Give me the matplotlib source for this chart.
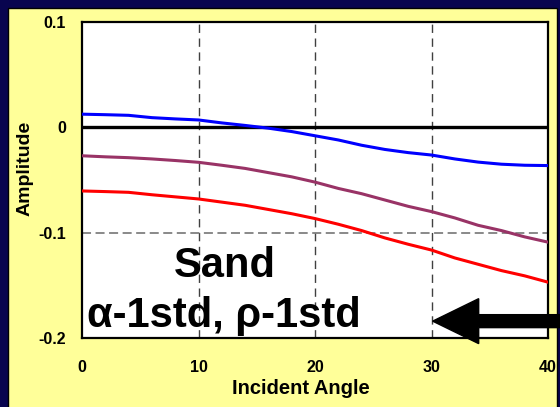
import matplotlib
matplotlib.use("Agg")
import matplotlib.pyplot as plt
from matplotlib.patches import Rectangle, FancyArrow

plt.rcParams["font.family"] = ["Liberation Sans", "DejaVu Sans"]
plt.rcParams["font.weight"] = "bold"

# incident angle (degrees)
angles = [0, 2, 4, 6, 8, 10, 12, 14, 16, 18, 20, 22, 24, 26, 28, 30, 32, 34, 36, 38, 40]

# amplitude curves
amp_blue = [0.0125, 0.012, 0.0114, 0.0092, 0.008, 0.007, 0.0042, 0.0018, -0.0008, -0.004,
            -0.008, -0.012, -0.017, -0.021, -0.024, -0.0263, -0.030, -0.033, -0.035, -0.036, -0.0363]
amp_purple = [-0.027, -0.028, -0.0288, -0.030, -0.0315, -0.0332, -0.036, -0.039, -0.043, -0.047,
              -0.052, -0.058, -0.063, -0.069, -0.075, -0.080, -0.086, -0.093, -0.098, -0.104, -0.109]
amp_red = [-0.0604, -0.061, -0.0617, -0.064, -0.066, -0.068, -0.071, -0.074, -0.078, -0.082,
           -0.0866, -0.092, -0.098, -0.105, -0.111, -0.1165, -0.124, -0.130, -0.136, -0.141, -0.147]

x_ticks = [0, 10, 20, 30, 40]
y_ticks = [-0.2, -0.1, 0, 0.1]
y_tick_labels = ["-0.2", "-0.1", "0", "0.1"]

W, H = 560, 407
fig = plt.figure(figsize=(W / 100, H / 100), dpi=100)
fig.patch.set_facecolor("#08044f")

# yellow panel inside the navy frame
panel = Rectangle((8 / W, -0.01), (557 - 8) / W, 1 - 8 / H + 0.01,
                  transform=fig.transFigure, facecolor="#ffff99",
                  edgecolor="black", linewidth=1.0, zorder=-5)
fig.patches.append(panel)

ax = fig.add_axes([82 / W, 1 - 338 / H, 466 / W, 316 / H])
ax.set_facecolor("white")

# grid lines
for gx in [10, 20, 30]:
    ax.axvline(gx, color="#404040", linestyle=(0, (6, 4)), linewidth=1.0, zorder=1)
ax.axhline(-0.1, color="#808080", linestyle=(0, (5, 2.5)), linewidth=1.3, zorder=1)
ax.axhline(0, color="black", linewidth=2.4, zorder=2)

ax.plot(angles, amp_blue, color="#0000ff", linewidth=2.2, zorder=3)
ax.plot(angles, amp_purple, color="#993366", linewidth=2.2, zorder=3)
ax.plot(angles, amp_red, color="#ff0000", linewidth=2.2, zorder=3)

ax.set_xlim(0, 40)
ax.set_ylim(-0.2, 0.1)
ax.set_xticks(x_ticks)
ax.set_yticks(y_ticks)
ax.set_yticklabels(y_tick_labels)
ax.tick_params(axis="both", length=0, labelsize=11.5)
ax.tick_params(axis="x", pad=16)
ax.tick_params(axis="y", pad=11.5)
for lab in ax.get_xticklabels() + ax.get_yticklabels():
    lab.set_fontweight("bold")

for sp in ax.spines.values():
    sp.set_linewidth(1.6)
    sp.set_color("black")

ax.set_xlabel("Incident Angle", fontsize=14.5, fontweight="bold")
ax.set_ylabel("Amplitude", fontsize=14, fontweight="bold")
ax.xaxis.set_label_coords((301 - 82) / 466, -(389 - 338) / 316)
ax.yaxis.set_label_coords(-(82 - 25) / 466, (338 - 168) / 316)
ax.xaxis.label.set_va("center")
ax.yaxis.label.set_va("center")

ax.text(12.3, -0.1418, "Sand", fontsize=30, fontweight="bold",
        ha="center", va="baseline", zorder=4)
ax.text(12.2, -0.1896, "α-1std, ρ-1std", fontsize=30, fontweight="bold",
        ha="center", va="baseline", zorder=4)

# big black arrow pointing left, running off the right edge
ax.add_patch(FancyArrow(42.0, -0.184, -(42.0 - 30.1), 0, width=0.0123,
                        head_width=0.0427, head_length=3.95,
                        length_includes_head=True, color="black",
                        clip_on=False, zorder=5))

fig.savefig("out.png", dpi=100, facecolor=fig.get_facecolor())
